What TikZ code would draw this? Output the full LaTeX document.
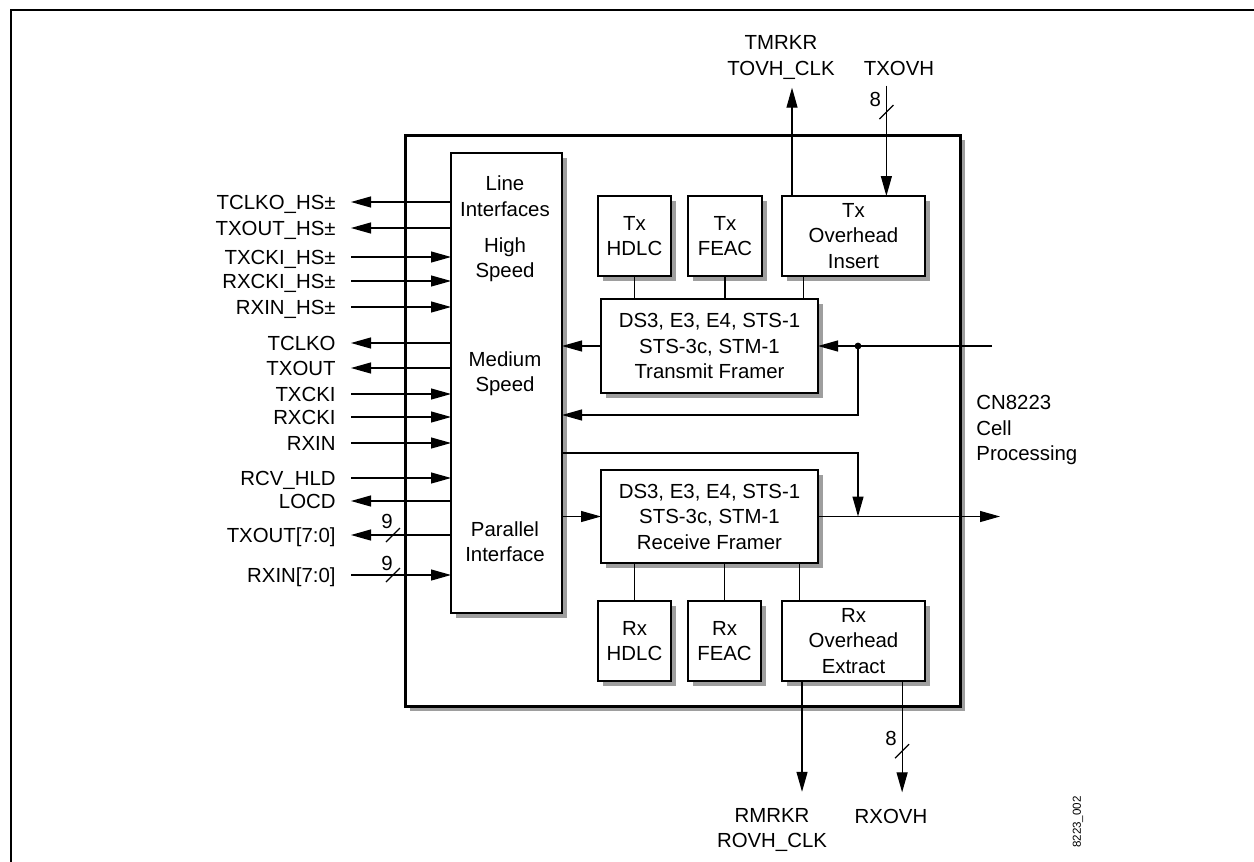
\documentclass[tikz,border=0pt]{standalone}
\usepackage{fontspec}
\setmainfont{Liberation Sans}
\usetikzlibrary{arrows.meta,calc,shadows}

\tikzset{
  blk/.style={draw, line width=1.1pt, fill=white, inner sep=0pt, outer sep=0pt, align=center,
    drop shadow={shadow xshift=2.6pt, shadow yshift=-2.6pt, fill=black!38, opacity=1}},
  sig/.style={inner xsep=7.5pt, inner ysep=0pt, text height=8pt, text depth=0.8pt},
  wire/.style={line width=0.6pt},
  buswidth/.style={inner sep=0pt},
}

\begin{document}
\begin{tikzpicture}[>={Triangle[length=10pt,width=5.5pt]}, x=0.5pt, y=-0.5pt,
  font=\fontsize{10.2}{12.75}\selectfont]

  \useasboundingbox (0,0) rectangle (1254,862);

  % Page frame
  \draw[line width=1pt] (11,862) -- (11,10) -- (1254,10);

  % Chip outline
  \node[blk, line width=1.5pt, minimum width=277.5pt, minimum height=285.5pt] (chip) at (682.5,420.5) {};

  % Line interface block
  \node[blk, minimum width=55.5pt, minimum height=230pt] (li) at (506.5,383) {};
  \node[align=center] (lihead) at (505,196) {Line\\Interfaces};
  \node[align=center] (lihs) at (505,259.5) {High\\Speed};
  \node[align=center] (lims) at (505,373.5) {Medium\\Speed};
  \node[align=center] (lipar) at (505,541.5) {Parallel\\Interface};

  % Framers
  \node[blk, minimum width=108.5pt, minimum height=47pt] (tf) at (709.5,346) {DS3, E3, E4, STS-1\\STS-3c, STM-1\\Transmit Framer};
  \node[blk, minimum width=108.5pt, minimum height=46.5pt] (rf) at (709.5,516.5) {DS3, E3, E4, STS-1\\STS-3c, STM-1\\Receive Framer};

  % Tx helpers
  \node[blk, minimum width=36.5pt, minimum height=40pt] (txhdlc) at (634.5,236) {Tx\\HDLC};
  \node[blk, minimum width=37pt, minimum height=40pt] (txfeac) at (725,236) {Tx\\FEAC};
  \node[blk, minimum width=71.5pt, minimum height=40pt] (txoh) at (853.5,236) {Tx\\Overhead\\Insert};

  % Rx helpers
  \node[blk, minimum width=36.5pt, minimum height=40pt] (rxhdlc) at (634.5,641) {Rx\\HDLC};
  \node[blk, minimum width=36.5pt, minimum height=40pt] (rxfeac) at (724.5,641) {Rx\\FEAC};
  \node[blk, minimum width=71.5pt, minimum height=40pt] (rxoh) at (853.5,641) {Rx\\Overhead\\Extract};

  % Helper links
  \coordinate (txohlink) at ($(txoh.south west)!0.15!(txoh.south east)$);
  \coordinate (rxohlink) at ($(rxoh.north west)!0.12!(rxoh.north east)$);
  \draw[wire] (txhdlc.south) -- (txhdlc.south |- tf.north);
  \draw[wire] (txfeac.south) -- (txfeac.south |- tf.north);
  \draw[wire] (txohlink) -- (txohlink |- tf.north);
  \draw[wire] (rxhdlc.north) -- (rxhdlc.north |- rf.south);
  \draw[wire] (rxfeac.north) -- (rxfeac.north |- rf.south);
  \draw[wire] (rxohlink) -- (rxohlink |- rf.south);

  % Overhead ports, top
  \node[align=center, inner ysep=4pt] (tmrkr) at (781,57.5) {TMRKR\\TOVH\_CLK};
  \node[inner ysep=5pt] (txovh) at (899,68) {TXOVH};
  \coordinate (txohclk) at ($(txoh.north west)!0.07!(txoh.north east)$);
  \coordinate (txohin) at ($(txoh.north west)!0.73!(txoh.north east)$);
  \draw[wire,->] (txohclk) -- (txohclk |- tmrkr.south);
  \draw[wire,->] (txohin |- txovh.south) -- coordinate[pos=0.24] (txovhbus) (txohin);
  \draw[wire] ($(txovhbus)+(-7,7)$) -- ($(txovhbus)+(7,-7)$);
  \node[buswidth] (txovhwidth) at ($(txovhbus)+(-11,-13)$) {8};

  % Overhead ports, bottom
  \node[align=center, inner ysep=8pt] (rmrkr) at (772,830) {RMRKR\\ROVH\_CLK};
  \node[inner ysep=8pt] (rxovh) at (891,816) {RXOVH};
  \coordinate (rxohclk) at ($(rxoh.south west)!0.14!(rxoh.south east)$);
  \coordinate (rxohout) at ($(rxoh.south west)!0.84!(rxoh.south east)$);
  \draw[wire,->] (rxohclk) -- (rxohclk |- rmrkr.north);
  \draw[wire,->] (rxohout) -- coordinate[pos=0.63] (rxovhbus) (rxohout |- rxovh.north);
  \draw[wire] ($(rxovhbus)+(-7,7)$) -- ($(rxovhbus)+(7,-7)$);
  \node[buswidth] (rxovhwidth) at ($(rxovhbus)+(-11,-13)$) {8};

  % Line side outputs
  \foreach \sn/\sy/\stext in {tclkohs/202/TCLKO\_HS±, txouths/228/TXOUT\_HS±, tclko/343/TCLKO,
      txout/368/TXOUT, locd/501/LOCD, txoutbus/535/{TXOUT[7:0]}} {
    \node[sig, anchor=east] (\sn) at (351,\sy) {\stext};
    \draw[wire,->] (li.west |- \sn.east) -- (\sn.east);
  }

  % Line side inputs
  \foreach \sn/\sy/\stext in {txckihs/257/TXCKI\_HS±, rxckihs/281/RXCKI\_HS±, rxinhs/307/RXIN\_HS±,
      txcki/394/TXCKI, rxcki/417/RXCKI, rxin/443/RXIN, rcvhld/478/RCV\_HLD, rxinbus/575/{RXIN[7:0]}} {
    \node[sig, anchor=east] (\sn) at (351,\sy) {\stext};
    \draw[wire,->] (\sn.east) -- (li.west |- \sn.east);
  }

  % Parallel bus widths
  \coordinate (txoutw) at ($(txoutbus.east)!0.42!(li.west |- txoutbus.east)$);
  \coordinate (rxinw) at ($(rxinbus.east)!0.42!(li.west |- rxinbus.east)$);
  \draw[wire] ($(txoutw)+(-7,7)$) -- ($(txoutw)+(7,-7)$);
  \draw[wire] ($(rxinw)+(-7,7)$) -- ($(rxinw)+(7,-7)$);
  \node[buswidth] (txoutwidth) at ($(txoutw)+(-6,-14)$) {9};
  \node[buswidth] (rxinwidth) at ($(rxinw)+(-6,-12)$) {9};

  % Cell side
  \coordinate (cellin) at (992,346);
  \coordinate (cellout) at (1000,516.5);
  \coordinate (tap) at (858,346);
  \coordinate (bypass) at (858,415);
  \coordinate (loop) at (858,453);
  \draw[wire,->] (cellin) -- (tf.east);
  \fill (tap) circle (1.7pt);
  \draw[wire,->] (tap) -- (bypass) -- (li.east |- bypass);
  \draw[wire,->] (tf.west) -- (li.east |- tf.west);
  \draw[wire,->] (li.east |- rf.west) -- (rf.west);
  \draw[wire,->] (rf.east) -- (cellout);
  \draw[wire,->] (li.east |- loop) -- (loop) -- (loop |- rf.east);

  \node[align=left, anchor=west, inner sep=0pt] (cellproc) at (976,430) {CN8223\\Cell\\Processing};

  % Figure number
  \node[rotate=90, font=\fontsize{5.8}{7}\selectfont] (figid) at (1078,822) {8223\_002};

\end{tikzpicture}
\end{document}
